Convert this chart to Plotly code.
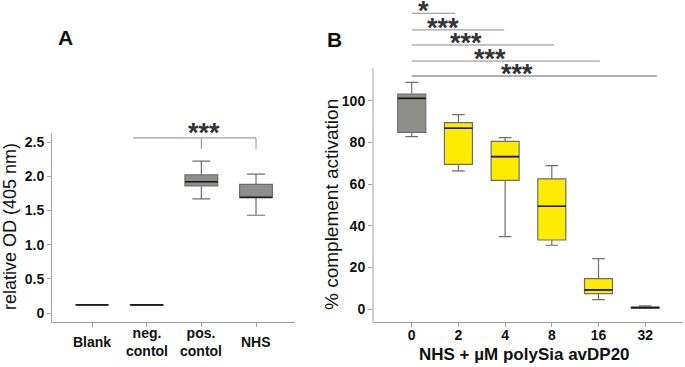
import plotly.graph_objects as go

# ---------------- data ----------------
a_cats = ["Blank", "neg. contol", "pos. contol", "NHS"]
a_ticktext = ["Blank", "neg.<br>contol", "pos.<br>contol", "NHS"]
a_low = [0.12, 0.115, 1.67, 1.43]
a_q1 = [0.12, 0.115, 1.86, 1.69]
a_med = [0.12, 0.12, 1.92, 1.69]
a_q3 = [0.12, 0.125, 2.02, 1.88]
a_high = [0.12, 0.125, 2.22, 2.03]
a_ticks = [0, 0.5, 1.0, 1.5, 2.0, 2.5]
a_ticklabels = ["0", "0.5", "1.0", "1.5", "2.0", "2.5"]

b_cats = ["0", "2", "4", "8", "16", "32"]
b_low = [82.8, 66.3, 34.8, 30.7, 4.6, 0.4]
b_q1 = [84.8, 69.5, 61.8, 33.2, 7.5, 0.5]
b_med = [101.1, 86.8, 73.2, 49.4, 9.3, 0.8]
b_q3 = [103.1, 89.5, 80.5, 62.5, 14.7, 1.0]
b_high = [108.8, 93.3, 82.3, 68.9, 24.3, 1.7]
b_ticks = [0, 20, 40, 60, 80, 100]

sig_b_labels = ["*", "***", "***", "***", "***"]
sig_b_level = [141.9, 133.9, 126.7, 119.0, 111.8]
sig_b_end = [0.93, 1.98, 3.05, 4.03, 5.25]
sig_b_textx = [0.26, 0.66, 1.16, 1.68, 2.25]

sig_a_label = "***"
sig_a_level = 2.56
sig_a_drop = 2.40

# ---------------- helpers ----------------
W, H = 685, 367
def px(x):
    return x / W
def py(y):
    return 1 - y / H

FONT = "Liberation Sans, Arial, sans-serif"
AXC = "#a0a0a0"
GRAY_FILL = "#8e8e8a"
BOX_LINE = "#6e6e6e"
YELLOW = "#ffeb00"
MED = "#1a1a1a"

fig = go.Figure()

def add_boxes(x, low, q1, med, q3, high, fill, xa, ya, ww):
    fig.add_trace(go.Box(x=x, lowerfence=low, q1=q1, median=med, q3=q3, upperfence=high,
                         fillcolor=fill, line=dict(color=BOX_LINE, width=1.2),
                         width=0.6, whiskerwidth=ww, boxpoints=False,
                         xaxis=xa, yaxis=ya, showlegend=False, hoverinfo="skip"))
    fig.add_trace(go.Box(x=x, lowerfence=med, q1=med, median=med, q3=med, upperfence=med,
                         fillcolor="rgba(0,0,0,0)", line=dict(color=MED, width=1.6),
                         width=0.6, whiskerwidth=0, boxpoints=False,
                         xaxis=xa, yaxis=ya, showlegend=False, hoverinfo="skip"))

# Panel A
add_boxes(a_cats, a_low, a_q1, a_med, a_q3, a_high, GRAY_FILL, "x", "y", 0.55)
# Panel B: control (gray) and polySia (yellow)
add_boxes(b_cats[:1], b_low[:1], b_q1[:1], b_med[:1], b_q3[:1], b_high[:1], GRAY_FILL, "x2", "y2", 0.45)
add_boxes(b_cats[1:], b_low[1:], b_q1[1:], b_med[1:], b_q3[1:], b_high[1:], YELLOW, "x2", "y2", 0.45)

shapes = []
# Panel A significance bracket
shapes.append(dict(type="line", xref="x", yref="y", x0=0.75, x1=3, y0=sig_a_level, y1=sig_a_level,
                   line=dict(color="#8a8a8a", width=1)))
for xi in (2, 3):
    shapes.append(dict(type="line", xref="x", yref="y", x0=xi, x1=xi, y0=sig_a_level, y1=sig_a_drop,
                       line=dict(color="#8a8a8a", width=1)))
# Panel B significance lines
for i, (lvl, xe) in enumerate(zip(sig_b_level, sig_b_end)):
    last = i == len(sig_b_level) - 1
    shapes.append(dict(type="line", xref="x2", yref="y2", x0=0, x1=xe, y0=lvl, y1=lvl,
                       line=dict(color="#b0b0b0" if last else "#8a8a8a", width=2 if last else 1)))
# Panel B y-axis line (axis stops below the significance lines)
shapes.append(dict(type="line", xref="x2 domain", yref="y2", x0=0, x1=0, y0=-6.1, y1=115.7,
                   line=dict(color=AXC, width=1)))

annotations = []
bold14 = dict(family=FONT, size=14, color="#111111", weight="bold")

def ann(**kw):
    d = dict(showarrow=False, xanchor="center", yanchor="middle")
    d.update(kw)
    annotations.append(d)

for c, t in zip(a_cats, a_ticktext):
    ann(x=c, xref="x", y=py(342), yref="paper", text=t, font=bold14)
ann(x=2.05, xref="x", y=sig_a_level, yref="y", text=sig_a_label,
    font=dict(family=FONT, size=27, color="#333333", weight="bold"), yshift=5)
for lbl, lvl, tx in zip(sig_b_labels, sig_b_level, sig_b_textx):
    ann(x=tx, xref="x2", y=lvl, yref="y2", text=lbl,
        font=dict(family=FONT, size=27, color="#333333", weight="bold"), yshift=2)
# panel letters
ann(x=px(65), y=py(38), xref="paper", yref="paper", text="A",
    font=dict(family=FONT, size=21, color="#111111", weight="bold"))
ann(x=px(334), y=py(39), xref="paper", yref="paper", text="B",
    font=dict(family=FONT, size=21, color="#111111", weight="bold"))
# axis titles
ann(x=px(10), y=py(227), xref="paper", yref="paper", text="relative OD (405 nm)", textangle=-90,
    font=dict(family=FONT, size=18, color="#111111"))
ann(x=px(331), y=py(205), xref="paper", yref="paper", text="% complement activation", textangle=-90,
    font=dict(family=FONT, size=19, color="#111111"))
ann(x=px(524), y=py(354), xref="paper", yref="paper", text="NHS + µM polySia avDP20",
    font=dict(family=FONT, size=17, color="#111111", weight="bold"))

axis_common = dict(showgrid=False, zeroline=False, ticks="outside", ticklen=4, tickcolor=AXC,
                   linecolor=AXC, linewidth=1, automargin=False, fixedrange=True, tickfont=bold14)

fig.update_layout(
    width=W, height=H, margin=dict(l=0, r=0, t=0, b=0),
    paper_bgcolor="white", plot_bgcolor="white", boxmode="overlay", showlegend=False,
    font=dict(family=FONT),
    xaxis=dict(domain=[px(52), px(295)], anchor="y", type="category", categoryorder="array",
               categoryarray=a_cats, range=[-0.732, 3.713], showline=True, showticklabels=False,
               **axis_common),
    yaxis=dict(domain=[py(322), py(133)], anchor="x", range=[-0.13, 2.632], tickvals=a_ticks,
               ticktext=a_ticklabels, showline=True, **axis_common),
    xaxis2=dict(domain=[px(373), px(683)], anchor="y2", type="category", categoryorder="array",
                categoryarray=b_cats, range=[-0.83, 5.81], showline=True, ticklabelstandoff=-4,
                **axis_common),
    yaxis2=dict(domain=[py(322), py(6.8)], anchor="x2", range=[-6.1, 145], tickvals=b_ticks,
                showline=False, **axis_common),
    shapes=shapes, annotations=annotations,
)

fig.write_html("out.html", config={"displayModeBar": False},
               post_script="document.body.style.margin='0';")
